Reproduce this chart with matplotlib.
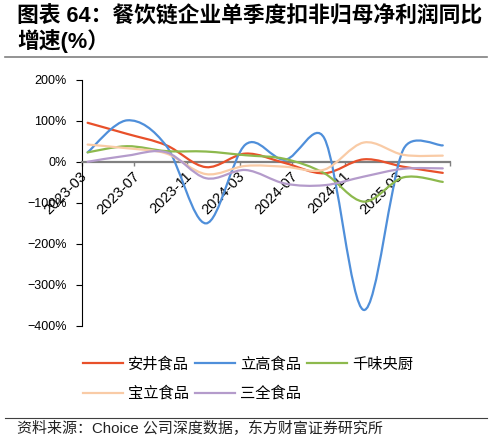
import matplotlib
matplotlib.use("Agg")
import matplotlib.pyplot as plt
import numpy as np
from matplotlib.lines import Line2D
from matplotlib.patches import PathPatch
from matplotlib.path import Path
import matplotlib.transforms as mtransforms

plt.rcParams['font.family'] = ['Liberation Sans', 'Noto Sans CJK SC']
plt.rcParams['axes.unicode_minus'] = True

# quarterly single-quarter YoY growth of deducted net profit (%)
quarters = ['2023-03', '2023-06', '2023-09', '2023-12', '2024-03',
            '2024-06', '2024-09', '2024-12', '2025-03', '2025-06']
anjing = [95, 68, 40, -13, 20, -3, -28, 6, -12, -27]
ligao = [23, 101, 38, -150, 42, 5, 57, -361, 30, 40]
qianwei = [23, 38, 26, 25, 16, 7, -28, -97, -38, -49]
baoli = [42, 33, 20, -30, -10, -12, -19, 47, 17, 15]
sanquan = [0, 15, 23, -40, -20, -53, -57, -36, -17, -16]

names = ['安井食品', '立高食品', '千味央厨', '宝立食品', '三全食品']
colors = ['#E8502A', '#4F8FDA', '#8DB94D', '#F9CBA6', '#B49BCB']

tick_labels = ['2023-03', '2023-07', '2023-11', '2024-03',
               '2024-07', '2024-11', '2025-03', '2025-07']
yticks = [200, 100, 0, -100, -200, -300, -400]


def month_index(s):
    y, m = s.split('-')
    return (int(y) - 2023) * 12 + int(m) - 3


def smooth_path(ax, xs, ys):
    # excel style smoothed line: cubic bezier through the points
    pts = ax.transData.transform(np.column_stack([xs, ys]))
    n = len(pts)
    verts = [pts[0]]
    codes = [Path.MOVETO]
    for i in range(n - 1):
        p0 = pts[max(i - 1, 0)]
        p1 = pts[i]
        p2 = pts[i + 1]
        p3 = pts[min(i + 2, n - 1)]
        half = np.hypot(*(p2 - p1)) / 2
        t1 = (p2 - p0) / 6
        t2 = (p3 - p1) / 6
        l1 = np.hypot(*t1)
        l2 = np.hypot(*t2)
        if l1 > half:
            t1 = t1 * half / l1
        if l2 > half:
            t2 = t2 * half / l2
        verts += [p1 + t1, p2 - t2, p2]
        codes += [Path.CURVE4] * 3
    verts = ax.transData.inverted().transform(np.array(verts))
    return Path(verts, codes)


W, H = 492, 441
fig = plt.figure(figsize=(W / 100, H / 100), dpi=100)
ax = fig.add_axes([81.7 / W, 1 - 326 / H, (450 - 81.7) / W, (326 - 79.7) / H])

offset = 0.45
xs = [month_index(q) for q in quarters]
ticks = [month_index(t) - offset for t in tick_labels]
ax.set_xlim(ticks[0], ticks[-1])
ax.set_ylim(-400, 200)

series = [anjing, ligao, qianwei, baoli, sanquan]
handles = []
for k, (vals, name, c) in enumerate(zip(series, names, colors)):
    path = smooth_path(ax, xs, vals)
    ax.add_patch(PathPatch(path, facecolor='none', edgecolor=c, lw=1.6,
                           capstyle='round', zorder=3 + k))
    handles.append(Line2D([], [], color=c, lw=1.6))

for s in ['top', 'right']:
    ax.spines[s].set_visible(False)
ax.spines['left'].set_color('black')
ax.spines['left'].set_linewidth(0.8)
ax.spines['bottom'].set_position(('data', 0))
ax.spines['bottom'].set_color('#808080')
ax.spines['bottom'].set_linewidth(1.6)
ax.spines['bottom'].set_zorder(2.5)

ax.set_yticks(yticks)
ax.set_yticklabels([f"{v}%".replace('-', '\u2212') for v in yticks])
ax.tick_params(axis='y', direction='out', length=4, width=0.8, labelsize=9, pad=7)

ax.set_xticks(ticks)
ax.set_xticklabels(tick_labels[:-1] + [''])
ax.tick_params(axis='x', direction='out', length=3, width=1, color='#808080',
               labelsize=10.5, pad=2)
shift = mtransforms.ScaledTranslation(-2 / 100, 0, fig.dpi_scale_trans)
for lab in ax.get_xticklabels():
    lab.set_rotation(45)
    lab.set_ha('right')
    lab.set_va('top')
    lab.set_rotation_mode('anchor')
    lab.set_transform(lab.get_transform() + shift)

# legend in row order: col1 安井/宝立, col2 立高/三全, col3 千味央厨
order = [0, 3, 1, 4, 2]
fig.legend([handles[i] for i in order], [names[i] for i in order], ncol=3,
           loc='upper left', bbox_to_anchor=(83 / W, 1 - 357 / H),
           frameon=False, fontsize=11, handlelength=2.6, handletextpad=0.35,
           columnspacing=0.4, labelspacing=0.95, borderpad=0, borderaxespad=0)

title_font = ['Liberation Sans', 'Noto Sans CJK SC']
fig.text(17 / W, 1 - 23 / H, '图表 64：餐饮链企业单季度扣非归母净利润同比',
         fontsize=15.7, fontweight='bold', family=title_font, va='baseline')
fig.text(17 / W, 1 - 48 / H, '增速(%）', fontsize=15.7, fontweight='bold',
         family=title_font, va='baseline')
fig.add_artist(Line2D([5 / W, 487 / W], [1 - 56.7 / H] * 2, color='#808080', lw=1.2))

fig.add_artist(Line2D([5 / W, 487 / W], [1 - 417.7 / H] * 2, color='#404040', lw=0.8))
fig.text(17 / W, 1 - 433 / H, '资料来源：Choice 公司深度数据，东方财富证券研究所',
         fontsize=10.8, va='baseline', color='#222222')

fig.savefig('out.png', dpi=100)
